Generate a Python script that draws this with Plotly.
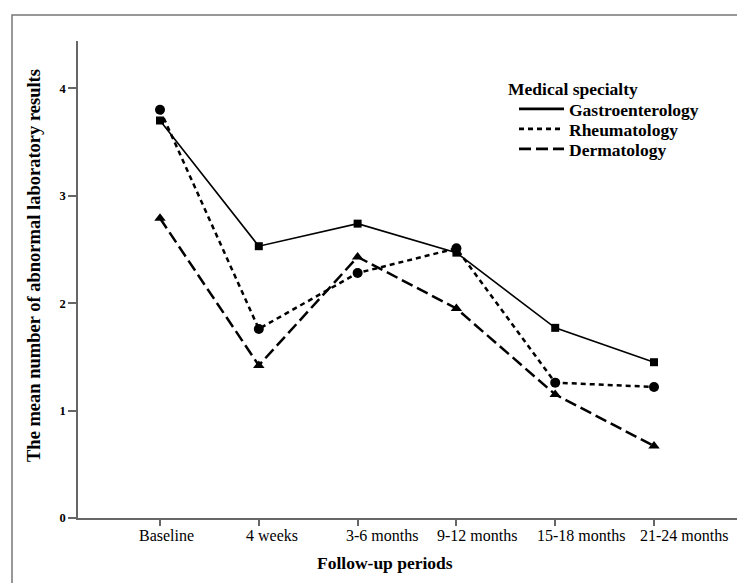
import plotly.graph_objects as go

categories = ["Baseline", "4 weeks", "3-6 months", "9-12 months", "15-18 months", "21-24 months"]
gastro = [3.70, 2.53, 2.74, 2.47, 1.77, 1.45]
rheum = [3.80, 1.76, 2.28, 2.51, 1.26, 1.22]
derm = [2.79, 1.42, 2.43, 1.95, 1.15, 0.67]
y_ticks = [0, 1, 2, 3, 4]
series_names = ["Gastroenterology", "Rheumatology", "Dermatology"]

xi = list(range(len(categories)))
serif = "Liberation Serif"

# plot area in pixels: left 70, right 729, top 33, bottom 510
L, R, T, B = 70, 729, 33, 510
def px(x):
    return (x - L) / (R - L)
def py(y):
    return (B - y) / (B - T)

fig = go.Figure()
styles = [
    ("solid", 1.6, "square", 8),
    ("5px,4px", 2.5, "circle", 10),
    ("12px,5px", 2.5, "triangle-up", 10),
]
legend_ids = ["legend", "legend2", "legend3"]
for name, vals, (dash, w, sym, sz) in zip(series_names, [gastro, rheum, derm], styles):
    fig.add_trace(go.Scatter(
        x=xi, y=vals, mode="lines+markers", showlegend=False,
        line=dict(color="black", width=w, dash=dash),
        marker=dict(symbol=sym, size=sz, color="black"),
    ))
for name, lg, (dash, w, sym, sz) in zip(series_names, legend_ids, styles):
    fig.add_trace(go.Scatter(
        x=[None], y=[None], mode="lines", name=name, legend=lg,
        line=dict(color="black", width=2.6, dash=dash),
    ))

item_y = [101, 121, 141]
leg_common = dict(xanchor="left", yanchor="middle", bgcolor="rgba(0,0,0,0)",
                  font=dict(family=serif, size=17.5, weight="bold", color="black"),
                  itemwidth=45, borderwidth=0)
legends = {}
for lg, yy in zip(legend_ids, item_y):
    legends[lg] = dict(x=px(506), y=py(yy), **leg_common)

# SPSS-style category labels sit slightly right of their ticks
label_shift = [6, 13, 24, 21, 26, 30]
annotations = [
    dict(text=c, x=i, xref="x", yref="paper", y=py(527), xanchor="center", yanchor="middle",
         xshift=s, showarrow=False, font=dict(family=serif, size=16, color="black"))
    for i, c, s in zip(xi, categories, label_shift)
]
annotations += [
    dict(text="<b>Medical specialty</b>", xref="paper", yref="paper",
         x=px(498), y=py(81), xanchor="left", yanchor="middle", showarrow=False,
         font=dict(family=serif, size=17.5)),
    dict(text="<b>Follow-up periods</b>", xref="paper", yref="paper",
         x=px(377), y=py(555), xanchor="center", yanchor="middle", showarrow=False,
         font=dict(family=serif, size=17.5)),
    dict(text="<b>The mean number of abnormal laboratory results</b>", xref="paper", yref="paper",
         x=px(26), y=py(258), xanchor="center", yanchor="middle", showarrow=False,
         textangle=-90, font=dict(family=serif, size=18.5)),
]

fig.update_layout(
    width=745, height=583,
    margin=dict(l=L, r=745 - R, t=T, b=583 - B),
    plot_bgcolor="white", paper_bgcolor="white",
    font=dict(family=serif, color="black"),
    xaxis=dict(
        range=[-0.83, 5.84], tickmode="array", tickvals=xi, ticktext=["" for _ in xi],
        showgrid=False, zeroline=False, showline=True, linecolor="#666", linewidth=1.5,
        ticks="outside", ticklen=6, tickcolor="#666", tickwidth=1.5,
    ),
    yaxis=dict(
        range=[0, 4.44], tickmode="array", tickvals=y_ticks,
        showgrid=False, zeroline=False, showline=True, linecolor="#666", linewidth=1.5,
        ticks="outside", ticklen=8, tickcolor="#666", tickwidth=1.5,
        tickfont=dict(family=serif, size=12.5, color="black", weight="bold"),
    ),
    annotations=annotations,
    shapes=[
        dict(type="rect", xref="paper", yref="paper", x0=px(4), x1=px(740), y0=py(578), y1=py(7),
             line=dict(color="#777", width=1.5), fillcolor="rgba(0,0,0,0)"),
    ],
    **legends,
)

fig.write_html("out.html")
